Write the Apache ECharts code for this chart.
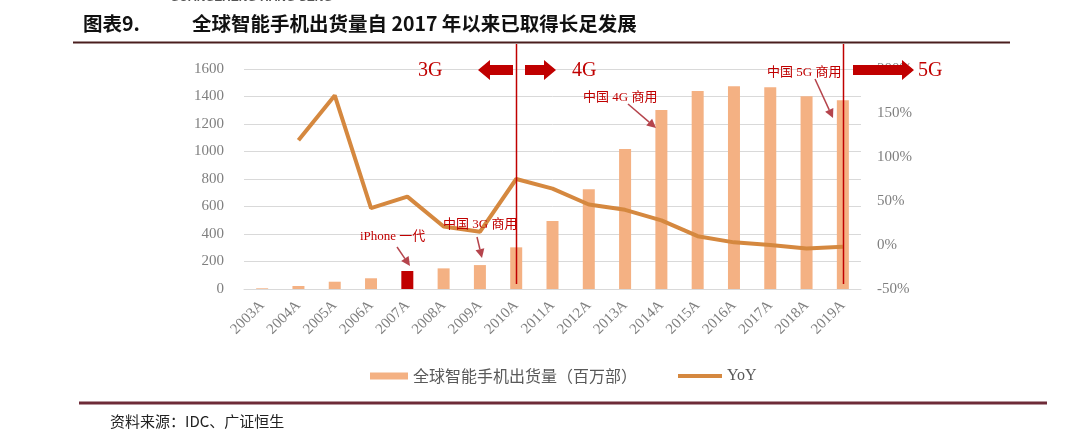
<!DOCTYPE html>
<html>
<head>
<meta charset="utf-8">
<script src="https://cdn.jsdelivr.net/npm/echarts@6/dist/echarts.min.js"></script>
<style>
html,body{margin:0;padding:0;background:#fff;}
#main{width:1080px;height:434px;}
</style>
</head>
<body>
<div id="main"></div>
<script>
const categories = ['2003A','2004A','2005A','2006A','2007A','2008A','2009A','2010A','2011A','2012A','2013A','2014A','2015A','2016A','2017A','2018A','2019A'];
const shipments = [5, 22, 53, 78, 131, 150, 174, 303, 494, 725, 1018, 1302, 1440, 1474, 1467, 1401, 1372];
const yoy = [null, 119, 170, 42, 55, 21, 15, 75, 64, 46, 40, 28, 10, 3, 0, -4, -2];
const leftTicks = {min: 0, max: 1600, interval: 200};
const rightTicks = {min: -50, max: 200, interval: 50};
const highlightCategory = '2007A';
const eraLines = ['2010A', '2019A'];
const seriesNames = ['全球智能手机出货量（百万部）', 'YoY'];

const SERIF = '"Liberation Serif", "Noto Sans CJK SC", serif';
const CJK = '"Noto Sans CJK SC", sans-serif';
const RED = '#c00000';
const BAR = '#f4b183';
const LINE = '#d5883f';

const chart = echarts.init(document.getElementById('main'), null, {renderer: 'canvas'});

const barData = shipments.map((v, i) => categories[i] === highlightCategory
  ? {value: v, itemStyle: {color: RED}} : v);

chart.setOption({
  animation: false,
  backgroundColor: '#fff',
  grid: {left: 244, right: 219, top: 69, bottom: 145},
  legend: [
    {
      left: 365, top: 363, itemGap: 0, itemWidth: 38, itemHeight: 7, icon: 'rect',
      textStyle: {fontFamily: CJK, fontSize: 16, color: '#595959'},
      data: [{name: seriesNames[0], icon: 'rect', itemStyle: {color: BAR}}]
    },
    {
      left: 673, top: 363, itemGap: 0, itemWidth: 44, itemHeight: 4, icon: 'rect',
      textStyle: {fontFamily: SERIF, fontSize: 16, color: '#595959'},
      data: [{name: seriesNames[1], icon: 'rect', itemStyle: {color: LINE}}]
    }
  ],
  xAxis: {
    type: 'category',
    data: categories,
    boundaryGap: true,
    axisLine: {lineStyle: {color: '#d9d9d9', width: 1}},
    axisTick: {show: false},
    axisLabel: {rotate: 45, fontFamily: SERIF, fontSize: 15, color: '#7f7f7f', margin: 14, interval: 0}
  },
  yAxis: [
    {
      type: 'value', min: leftTicks.min, max: leftTicks.max, interval: leftTicks.interval,
      axisLine: {show: false}, axisTick: {show: false},
      splitLine: {lineStyle: {color: '#d9d9d9', width: 1}},
      axisLabel: {fontFamily: SERIF, fontSize: 15, color: '#7f7f7f', margin: 20, formatter: v => String(v)}
    },
    {
      type: 'value', min: rightTicks.min, max: rightTicks.max, interval: rightTicks.interval,
      axisLine: {show: false}, axisTick: {show: false}, splitLine: {show: false},
      axisLabel: {fontFamily: SERIF, fontSize: 15, color: '#7f7f7f', margin: 16, formatter: '{value}%'}
    }
  ],
  series: [
    {
      name: seriesNames[0], type: 'bar', data: barData, barWidth: 12,
      itemStyle: {color: BAR}, yAxisIndex: 0, z: 2
    },
    {
      name: seriesNames[1], type: 'line', data: yoy, yAxisIndex: 1,
      showSymbol: false, symbol: 'none', connectNulls: false,
      lineStyle: {color: LINE, width: 4}, itemStyle: {color: LINE}, z: 3
    }
  ]
});

function arrow(x1, y1, x2, y2, color) {
  const ang = Math.atan2(y2 - y1, x2 - x1);
  const L = 9, W = 4.5;
  const bx = x2 - L * Math.cos(ang), by = y2 - L * Math.sin(ang);
  const px = -Math.sin(ang) * W, py = Math.cos(ang) * W;
  return [
    {type: 'line', z: 20, shape: {x1, y1, x2: bx, y2: by}, style: {stroke: color, lineWidth: 1.5}},
    {type: 'polygon', z: 20, shape: {points: [[x2, y2], [bx + px, by + py], [bx - px, by - py]]}, style: {fill: color}}
  ];
}
function blockArrow(tail, tip, yc, dir, color) {
  const headLen = 12, shaftH = 5, headH = 10;
  const hb = tip - dir * headLen;
  return {type: 'polygon', z: 30, shape: {points: [
    [tail, yc - shaftH], [hb, yc - shaftH], [hb, yc - headH], [tip, yc],
    [hb, yc + headH], [hb, yc + shaftH], [tail, yc + shaftH]
  ]}, style: {fill: color}};
}
function txt(x, y, text, size, color, font, extra) {
  return Object.assign({type: 'text', z: 25, x, y, style: Object.assign({
    text, fontSize: size, fill: color, fontFamily: font, textVerticalAlign: 'middle'
  }, extra || {})});
}

const gfx = [];
gfx.push(txt(170, -2, 'GUANGZHENG HANG SENG', 12, '#555', '"Liberation Sans", sans-serif', {fontWeight: 'bold'}));
gfx.push(txt(83, 24, '图表9.', 19.5, '#111', CJK, {fontWeight: 'bold'}));
gfx.push(txt(192, 24, '全球智能手机出货量自 2017 年以来已取得长足发展', 19.5, '#111', CJK, {fontWeight: 'bold'}));
gfx.push({type: 'line', z: 10, shape: {x1: 73, y1: 42.5, x2: 1010, y2: 42.5}, style: {stroke: '#4a1e1e', lineWidth: 2}});
gfx.push({type: 'line', z: 10, shape: {x1: 79, y1: 403, x2: 1047, y2: 403}, style: {stroke: '#6e2b38', lineWidth: 3}});
gfx.push(txt(110, 421, '资料来源：IDC、广证恒生', 15, '#222', CJK));

const bottomY = chart.convertToPixel({yAxisIndex: 0}, 0);
eraLines.forEach(c => {
  const x = Math.round(chart.convertToPixel({xAxisIndex: 0}, c)) + 0.5;
  gfx.push({type: 'line', z: 15, shape: {x1: x, y1: 44, x2: x, y2: bottomY - 5}, style: {stroke: RED, lineWidth: 1.5}});
});

gfx.push(txt(418, 71, '3G', 20, RED, SERIF));
gfx.push(blockArrow(513, 478, 70, -1, RED));
gfx.push(blockArrow(525, 556, 70, 1, RED));
gfx.push(txt(572, 71, '4G', 20, RED, SERIF));
gfx.push(blockArrow(853, 914, 70, 1, RED));
gfx.push(txt(918, 71, '5G', 20, RED, SERIF));

const AC = '#b5444c';
gfx.push(txt(360, 237, 'iPhone 一代', 13, RED, SERIF));
gfx.push(...arrow(397, 247, 410, 266, AC));
gfx.push(txt(443, 225, '中国 3G 商用', 13, RED, SERIF));
gfx.push(...arrow(477, 237, 482, 258, AC));
gfx.push(txt(583, 98, '中国 4G 商用', 13, RED, SERIF));
gfx.push(...arrow(628, 104, 656, 128, AC));
gfx.push(txt(767, 73, '中国 5G 商用', 13, RED, SERIF));
gfx.push(...arrow(815, 79, 833, 118, AC));

chart.setOption({graphic: gfx});
</script>
</body>
</html>
